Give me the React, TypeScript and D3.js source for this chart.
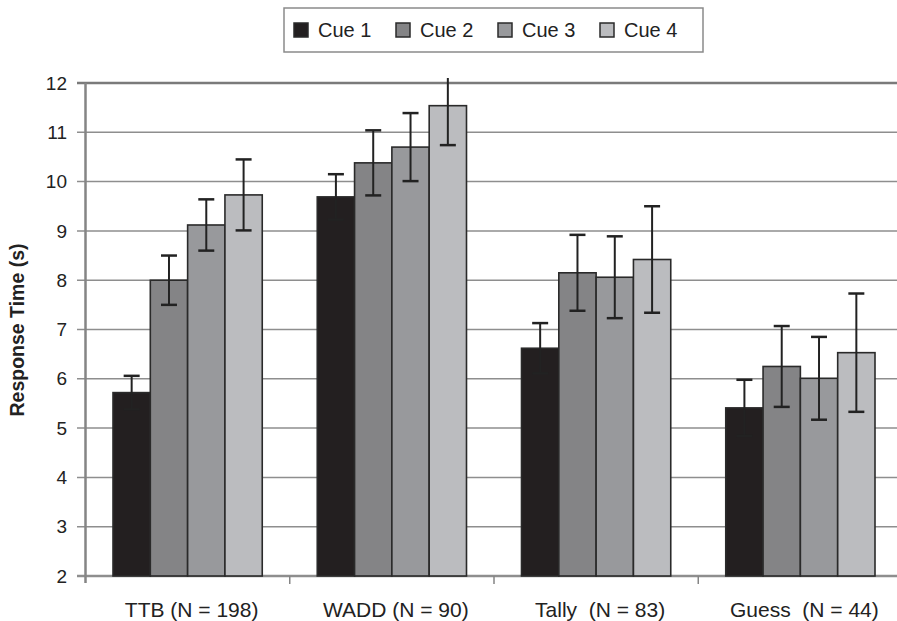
import React, { useRef, useEffect } from 'react';
import * as d3 from 'd3';

const categories = ['TTB (N = 198)', 'WADD (N = 90)', 'Tally  (N = 83)', 'Guess  (N = 44)'];
const cues = ['Cue 1', 'Cue 2', 'Cue 3', 'Cue 4'];
const cue1 = [5.72, 9.69, 6.62, 5.41];
const cue2 = [8.0, 10.38, 8.15, 6.25];
const cue3 = [9.12, 10.7, 8.06, 6.01];
const cue4 = [9.73, 11.54, 8.42, 6.53];
const err1 = [0.34, 0.46, 0.51, 0.57];
const err2 = [0.5, 0.66, 0.77, 0.82];
const err3 = [0.52, 0.69, 0.83, 0.84];
const err4 = [0.72, 0.8, 1.08, 1.2];
const yTicks = [2, 3, 4, 5, 6, 7, 8, 9, 10, 11, 12];
const colors = ['#231f20', '#848486', '#98999c', '#bbbcbf'];

const App = () => {
  const ref = useRef(null);

  useEffect(() => {
    if (!ref.current) return;
    d3.select(ref.current).select('svg').remove();

    const W = 897, H = 621;
    const font = '"Liberation Sans", Arial, sans-serif';
    const means = [cue1, cue2, cue3, cue4];
    const errs = [err1, err2, err3, err4];

    const svg = d3.select(ref.current)
      .append('svg')
      .attr('width', W)
      .attr('height', H)
      .style('position', 'absolute')
      .style('left', 0)
      .style('top', 0)
      .style('background', '#fff');

    const y = d3.scaleLinear().domain([2, 12]).range([576, 83]);
    const x0 = d3.scaleBand().domain(categories).range([85.5, 902.5]);
    const inset = 27.5;
    const x1 = d3.scaleBand().domain(cues).range([inset, x0.bandwidth() - inset]);

    // plot area clip (error bars are cut just above the top gridline)
    svg.append('defs').append('clipPath').attr('id', 'plot-clip')
      .append('rect')
      .attr('x', 0).attr('y', y(12) - 5)
      .attr('width', W).attr('height', y(2) - y(12) + 10);

    // gridlines
    svg.append('g')
      .selectAll('line')
      .data(yTicks)
      .join('line')
      .attr('x1', 77)
      .attr('x2', W)
      .attr('y1', d => y(d))
      .attr('y2', d => y(d))
      .attr('stroke', d => (d === 12 ? '#7a7a7a' : '#8e8e8e'))
      .attr('stroke-width', d => (d === 12 || d === 2 ? 2.5 : 1.5));

    // y tick labels
    svg.append('g')
      .selectAll('text')
      .data(yTicks)
      .join('text')
      .attr('x', 67)
      .attr('y', d => y(d))
      .attr('dy', '0.35em')
      .attr('text-anchor', 'end')
      .attr('font-family', font)
      .attr('font-size', 19)
      .attr('fill', '#222')
      .text(d => d);

    // y axis line
    svg.append('line')
      .attr('x1', 85.5).attr('x2', 85.5)
      .attr('y1', y(12)).attr('y2', y(2) + 7)
      .attr('stroke', '#858585')
      .attr('stroke-width', 2.5);

    // x ticks
    svg.append('g')
      .selectAll('line')
      .data(categories.slice(1))
      .join('line')
      .attr('x1', d => x0(d))
      .attr('x2', d => x0(d))
      .attr('y1', y(2))
      .attr('y2', y(2) + 8)
      .attr('stroke', '#858585')
      .attr('stroke-width', 1.5);

    // bars
    const groups = svg.append('g')
      .attr('clip-path', 'url(#plot-clip)')
      .selectAll('g')
      .data(categories)
      .join('g')
      .attr('transform', d => `translate(${x0(d)},0)`);

    groups.each(function (cat, ci) {
      const g = d3.select(this);
      cues.forEach((cue, si) => {
        const v = means[si][ci];
        g.append('rect')
          .attr('x', x1(cue))
          .attr('y', y(v))
          .attr('width', x1.bandwidth())
          .attr('height', y(2) - y(v))
          .attr('fill', colors[si])
          .attr('stroke', '#2a2a2a')
          .attr('stroke-width', 1.6);
      });
      cues.forEach((cue, si) => {
        const v = means[si][ci];
        const e = errs[si][ci];
        const cx = x1(cue) + x1.bandwidth() / 2;
        g.append('line')
          .attr('x1', cx).attr('x2', cx)
          .attr('y1', y(v + e)).attr('y2', y(v - e))
          .attr('stroke', '#222')
          .attr('stroke-width', 2);
        [v + e, v - e].forEach(t => {
          g.append('line')
            .attr('x1', cx - 8).attr('x2', cx + 8)
            .attr('y1', y(t)).attr('y2', y(t))
            .attr('stroke', '#222')
            .attr('stroke-width', 2.5);
        });
      });
    });

    // x labels
    svg.append('g')
      .selectAll('text')
      .data(categories)
      .join('text')
      .attr('x', d => x0(d) + x0.bandwidth() / 2 + 4)
      .attr('y', 617)
      .attr('text-anchor', 'middle')
      .attr('font-family', font)
      .attr('font-size', 21)
      .attr('fill', '#222')
      .style('white-space', 'pre')
      .text(d => d);

    // y title
    svg.append('text')
      .attr('transform', `translate(24,330) rotate(-90)`)
      .attr('text-anchor', 'middle')
      .attr('font-family', font)
      .attr('font-size', 19.5)
      .attr('font-weight', 'bold')
      .attr('fill', '#222')
      .text('Response Time (s)');

    // legend
    const legend = svg.append('g');
    legend.append('rect')
      .attr('x', 284).attr('y', 8)
      .attr('width', 419).attr('height', 44)
      .attr('fill', '#fff')
      .attr('stroke', '#8a8a8a')
      .attr('stroke-width', 1.5);
    const lx = d3.scaleBand().domain(cues).range([294, 702]);
    const items = legend.selectAll('g.item')
      .data(cues)
      .join('g')
      .attr('class', 'item')
      .attr('transform', d => `translate(${lx(d)},0)`);
    items.append('rect')
      .attr('x', 0).attr('y', 23)
      .attr('width', 14).attr('height', 14)
      .attr('fill', (d, i) => colors[i])
      .attr('stroke', '#2a2a2a')
      .attr('stroke-width', 1.5);
    items.append('text')
      .attr('x', 24).attr('y', 37)
      .attr('font-family', font)
      .attr('font-size', 20)
      .attr('fill', '#222')
      .text(d => d);
  }, []);

  return <div ref={ref}></div>;
};

export default App;
